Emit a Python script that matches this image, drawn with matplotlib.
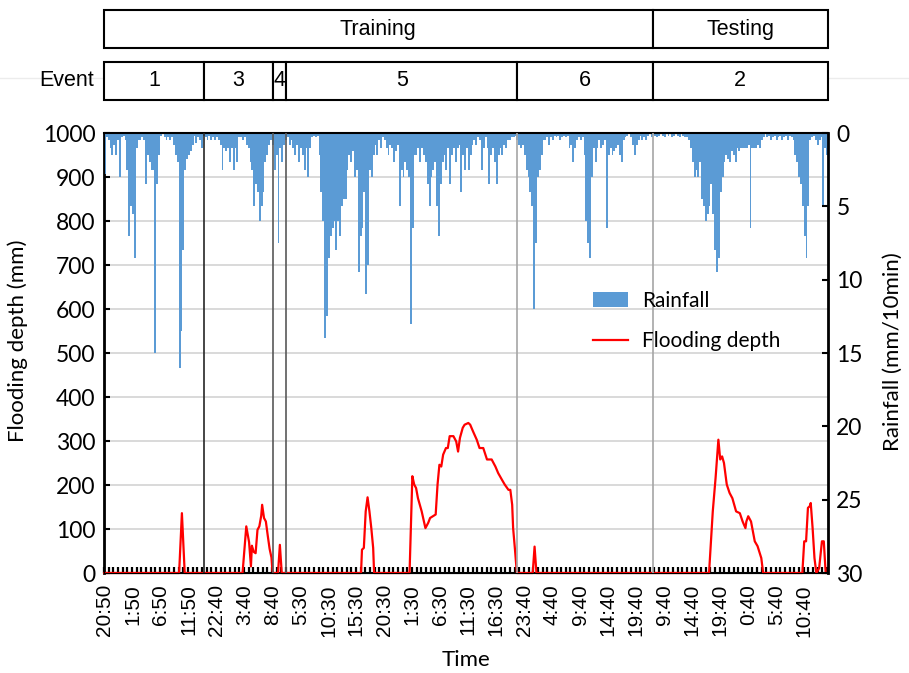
import numpy as np
import matplotlib.pyplot as plt
from matplotlib.patches import Rectangle, Patch
from matplotlib.lines import Line2D

# rainfall (mm/10min), one value per two 10-min steps
rain = [
    2.8, 0.3, 0.5, 1.0, 1.5, 0.8, 1.5, 0.5, 3.0, 0.3,
    0.2, 0.5, 2.5, 7.0, 5.0, 5.5, 8.5, 1.0, 0.5, 0.5,
    0.3, 0.5, 3.5, 1.5, 2.0, 2.5, 2.5, 15.0, 3.5, 1.5,
    0.2, 0.0, 0.3, 0.5, 0.3, 0.5, 0.3, 0.8, 1.5, 2.0,
    16.0, 13.5, 8.0, 2.5, 1.8, 1.5, 1.2, 0.8, 0.2, 0.7,
    0.3, 0.5, 1.0, 0.2, 0.3, 0.5, 0.2, 0.5, 0.3, 0.5,
    0.3, 0.5, 0.8, 2.5, 1.0, 1.2, 1.0, 2.0, 1.0, 2.5,
    1.0, 2.0, 0.3, 0.3, 0.5, 0.3, 0.8, 1.0, 2.0, 2.5,
    5.0, 3.5, 4.0, 6.0, 5.0, 4.0, 2.0, 1.5, 0.8, 0.5,
    0.8, 2.5, 1.5, 7.5, 1.0, 2.0, 0.8, 0.5, 0.3, 0.8,
    0.5, 1.0, 1.5, 0.8, 2.0, 1.0, 1.5, 2.5, 1.0, 3.0,
    1.0, 0.3, 0.2, 0.3, 0.2, 1.5, 4.0, 6.0, 14.0, 12.5,
    8.5, 7.0, 6.5, 6.0, 8.0, 6.0, 7.0, 5.0, 4.5, 4.5,
    2.5, 1.5, 2.0, 1.2, 3.0, 2.5, 9.5, 7.0, 6.5, 4.0,
    11.0, 9.0, 2.5, 3.0, 1.5, 0.8, 1.5, 0.5, 1.0, 0.3,
    0.5, 1.0, 1.5, 0.8, 1.0, 2.0, 1.2, 0.8, 5.0, 2.5,
    3.0, 2.0, 2.5, 3.0, 13.0, 6.5, 1.5, 1.5, 1.0, 2.0,
    1.0, 1.5, 2.0, 3.5, 5.0, 3.0, 2.5, 2.0, 5.0, 7.0,
    3.5, 2.0, 1.5, 2.5, 1.0, 3.5, 1.5, 1.0, 2.0, 1.0,
    0.8, 4.0, 1.5, 2.5, 1.0, 2.5, 1.5, 0.8, 0.5, 0.8,
    0.3, 0.5, 2.5, 1.0, 0.3, 1.0, 3.5, 1.5, 1.0, 2.0,
    3.5, 1.5, 1.0, 1.5, 0.8, 1.0, 0.5, 0.5, 0.3, 0.3,
    0.2, 0.5, 0.8, 1.0, 0.8, 1.5, 2.5, 3.0, 4.0, 5.0,
    12.0, 7.5, 3.0, 2.5, 1.5, 0.5, 0.5, 0.3, 0.8, 0.3,
    0.5, 0.2, 0.3, 0.2, 0.5, 0.3, 0.2, 0.3, 0.2, 1.0,
    0.8, 2.0, 1.0, 0.5, 0.3, 0.5, 0.3, 1.5, 6.0, 7.5,
    8.5, 3.0, 1.0, 2.0, 1.0, 0.5, 1.0, 0.8, 0.5, 6.5,
    1.5, 1.0, 1.5, 1.2, 1.0, 0.8, 1.5, 2.0, 0.5, 0.3,
    0.2, 0.0, 0.3, 0.8, 1.5, 0.8, 0.5, 0.2, 0.5, 0.3,
    0.5, 0.2, 0.0, 0.3, 0.0, 0.2, 0.3, 0.2, 0.0, 0.2,
    0.3, 0.0, 0.2, 0.0, 0.3, 0.2, 0.0, 0.2, 0.3, 0.0,
    0.2, 0.3, 0.3, 0.5, 1.0, 2.0, 3.0, 2.5, 3.0, 2.0,
    4.5, 5.0, 6.0, 5.5, 5.0, 3.5, 5.5, 8.0, 9.5, 8.5,
    4.0, 3.0, 2.0, 1.5, 1.8, 2.0, 1.2, 1.5, 2.0, 1.0,
    1.2, 1.0, 1.0, 1.0, 1.0, 0.8, 6.5, 1.0, 1.0, 1.0,
    0.8, 1.0, 0.5, 0.3, 0.0, 0.3, 0.2, 0.5, 0.3, 0.2,
    0.5, 0.3, 0.2, 0.5, 0.3, 0.2, 0.5, 0.2, 0.3, 0.5,
    1.5, 2.0, 3.0, 3.5, 5.0, 7.0, 8.5, 5.0, 0.5, 0.3,
    0.2, 0.5, 0.8, 0.5, 0.3, 5.0, 1.0, 1.5,
]

# flooding depth (mm) at 10-min step index
flood_step = [
    0, 80, 83, 86,
    148, 152, 155, 157, 158, 160, 162, 164, 166, 168, 169, 171, 173, 175,
    177, 179, 180, 181,
    186, 188, 190,
    275, 276, 278, 280, 282, 284, 286, 288, 289,
    327, 330, 332, 334, 336, 340, 344, 347, 349, 352, 355, 357, 359, 361,
    363, 366, 368, 370, 374, 377, 379, 381, 384, 386, 390, 392, 395, 399,
    402, 406, 410, 415, 419, 422, 426, 429, 433, 435, 437, 438, 440, 442,
    459, 461, 463,
    648, 652, 655, 658, 660, 662, 664, 667, 670, 673, 675, 677, 681, 684,
    687, 688, 690, 693, 697, 700, 704, 706,
    748, 750, 752, 754, 756, 757, 759, 761, 763, 766, 769, 771, 773, 775,
]
flood_mm = [
    0, 0, 136, 0,
    0, 106, 70, 15, 62, 48, 45, 98, 106, 130, 155, 125, 117, 85,
    55, 35, 5, 0,
    0, 64, 0,
    0, 53, 57, 140, 172, 140, 102, 57, 0,
    0, 220, 201, 193, 170, 140, 102, 114, 125, 129, 133, 201, 246, 242,
    269, 284, 284, 311, 311, 299, 276, 307, 330, 337, 341, 337, 322, 303,
    284, 284, 258, 258, 242, 227, 212, 201, 189, 189, 155, 102, 53, 0,
    0, 60, 0,
    0, 140, 216, 303, 258, 265, 250, 201, 182, 170, 155, 140, 136, 117,
    102, 117, 129, 117, 72, 61, 34, 0,
    0, 72, 72, 148, 152, 159, 102, 34, 0, 11, 72, 72, 0, 0,
]

event_names = ["1", "3", "4", "5", "6", "2"]
event_steps = [107, 74, 14, 248, 145, 188]
phase_names = ["Training", "Testing"]
phase_events = [5, 1]

time_labels = [
    "20:50", "1:50", "6:50", "11:50", "22:40", "3:40", "8:40", "5:30",
    "10:30", "15:30", "20:30", "1:30", "6:30", "11:30", "16:30", "23:40",
    "4:40", "9:40", "14:40", "19:40", "9:40", "14:40", "19:40", "0:40",
    "5:40", "10:40",
]

# separator colours between events
sep_colors = ["#262626", "#595959", "#595959", "#a6a6a6", "#a6a6a6"]

n_steps = sum(event_steps)
bounds = np.cumsum([0] + event_steps)

W, H = 909, 673
fig = plt.figure(figsize=(W / 100, H / 100), dpi=100)
ax = fig.add_axes([104 / W, 100 / H, 724 / W, 440 / H])
ax2 = ax.twinx()

lab_font = "Lato"
hdr_font = "Liberation Sans"

# flooding depth on the left axis
ax.plot(np.array(flood_step) + 0.5, flood_mm, color="#ff0000", lw=1.6,
        zorder=5, clip_on=False)
ax.set_xlim(0, n_steps)
ax.set_ylim(0, 1000)
ax.set_yticks(range(0, 1001, 100))
ax.grid(axis="y", color="#d9d9d9", lw=1.4)
ax.set_axisbelow(True)

ax.set_xticks(np.arange(len(time_labels)) * 30 + 0.5)
ax.set_xticklabels(time_labels, rotation=90, family=hdr_font, fontsize=15)
ax.set_xticks(np.arange(0, n_steps + 1, 5), minor=True)
ax.tick_params(axis="x", which="major", length=0, pad=8)
ax.tick_params(axis="x", which="minor", direction="in", length=4.5,
               width=1.6, color="black")
ax.tick_params(axis="y", direction="in", length=4.5, width=1.5, pad=6,
               labelsize=16.5)
for t in ax.get_yticklabels():
    t.set_family(lab_font)

# rainfall hanging from the top on the right axis
ax2.bar(np.arange(len(rain)) * 2, rain, width=2, align="edge",
        color="#5b9bd5", linewidth=0)
ax2.set_ylim(30, 0)
ax2.set_yticks(range(0, 31, 5))
ax2.tick_params(axis="y", direction="in", length=4.5, width=1.5, pad=6,
                labelsize=16.5)
for t in ax2.get_yticklabels():
    t.set_family(lab_font)

for b, c in zip(bounds[1:-1], sep_colors):
    ax2.axvline(b, color=c, lw=1.2, zorder=3)

for a in (ax, ax2):
    for s in a.spines.values():
        s.set_color("black")
ax.spines["left"].set_linewidth(2)
ax2.spines["right"].set_linewidth(2)
ax2.spines["top"].set_linewidth(1.5)
ax.spines["bottom"].set_linewidth(1.5)

fig.text(18 / W, 1 - 341 / H, "Flooding depth (mm)", rotation=90,
         ha="center", va="center", family=lab_font, fontsize=16)
fig.text(893 / W, 1 - 352 / H, "Rainfall (mm/10min)", rotation=90,
         ha="center", va="center", family=lab_font, fontsize=16)
fig.text(466 / W, 1 - 660 / H, "Time", ha="center", va="center",
         family=lab_font, fontsize=16)

handles = [Patch(facecolor="#5b9bd5", edgecolor="none"),
           Line2D([], [], color="#ff0000", lw=1.6)]
fig.legend(handles, ["Rainfall", "Flooding depth"], loc="center left",
           bbox_to_anchor=(593 / W, 1 - 321 / H), frameon=False,
           borderpad=0, borderaxespad=0, handlelength=1.7,
           handletextpad=0.65, labelspacing=1.0,
           prop={"family": lab_font, "size": 15})

# header rows: phase and event boxes aligned with the time axis
fig.add_artist(Line2D([0, 1], [1 - 78 / H] * 2, color="#ececec", lw=1,
                      transform=fig.transFigure, zorder=0))
hdr = fig.add_axes([104 / W, 0, 724 / W, 1], zorder=2)
hdr.set_xlim(0, n_steps)
hdr.set_ylim(H, 0)
hdr.axis("off")
hdr.patch.set_visible(False)

phase_bounds = np.cumsum([0] + phase_events)
for i, name in enumerate(phase_names):
    x0 = bounds[phase_bounds[i]]
    x1 = bounds[phase_bounds[i + 1]]
    hdr.add_patch(Rectangle((x0, 10), x1 - x0, 38, facecolor="white",
                            edgecolor="black", lw=1.5, clip_on=False))
    hdr.text((x0 + x1) / 2, 29, name, ha="center", va="center",
             family=hdr_font, fontsize=15.5)

for i, name in enumerate(event_names):
    x0, x1 = bounds[i], bounds[i + 1]
    hdr.add_patch(Rectangle((x0, 62), x1 - x0, 38, facecolor="white",
                            edgecolor="black", lw=1.5, clip_on=False))
    hdr.text((x0 + x1) / 2, 81, name, ha="center", va="center",
             family=hdr_font, fontsize=15.5)
hdr.text(-11, 81, "Event", ha="right", va="center", family=hdr_font,
         fontsize=15.5)

fig.savefig("out.png", dpi=100)
